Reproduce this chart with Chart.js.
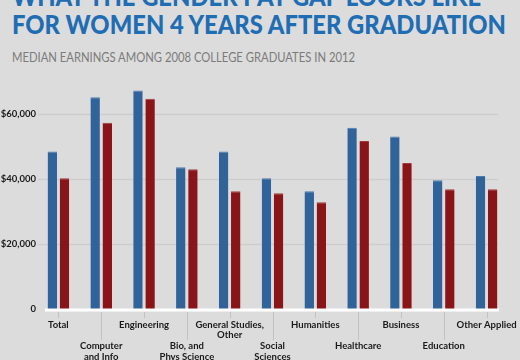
<!DOCTYPE html>
<html>
<head>
<meta charset="utf-8">
<script src="https://cdn.jsdelivr.net/npm/chart.js@4"></script>
<style>
  html, body { margin: 0; padding: 0; background: #dcdcdc; }
  #wrap { position: relative; width: 520px; height: 360px; overflow: hidden; background: #dcdcdc; }
  .title {
    position: absolute; left: 12px; margin: 0; white-space: nowrap;
    font-family: Lato, sans-serif; font-weight: 900; font-size: 26px;
    color: #1f6db3; line-height: 28px; transform-origin: 0 0;
  }
  #t1 { top: -18px; }
  #t2 { top: 10px; }
  #sub {
    position: absolute; left: 12px; top: 49px; margin: 0; white-space: nowrap;
    font-family: Lato, sans-serif; font-size: 13.5px; color: #7b7b7b; transform-origin: 0 0;
  }
  #chart-box { position: absolute; left: 0; top: 0; width: 520px; height: 360px; }
</style>
</head>
<body>
<div id="wrap">
  <div class="title" id="t1">WHAT THE GENDER PAY GAP LOOKS LIKE</div>
  <div class="title" id="t2">FOR WOMEN 4 YEARS AFTER GRADUATION</div>
  <div id="sub">MEDIAN EARNINGS AMONG 2008 COLLEGE GRADUATES IN 2012</div>
  <div id="chart-box"><canvas id="gap"></canvas></div>
</div>
<script>
const categories = [
  ["Total"],
  ["Computer", "and Info"],
  ["Engineering"],
  ["Bio, and", "Phys Science"],
  ["General Studies,", "Other"],
  ["Social", "Sciences"],
  ["Humanities"],
  ["Healthcare"],
  ["Business"],
  ["Education"],
  ["Other Applied"],
];
const men = [48600, 65300, 67400, 43700, 48600, 40300, 36300, 55900, 53200, 39700, 41000];
const women = [40300, 57400, 64800, 43100, 36300, 35700, 32900, 51800, 45000, 36900, 36900];
const yTicks = [0, 20000, 40000, 60000];

// squeeze the heading lines to the widths of the original
function fitWidth(el, w) {
  const k = w / el.getBoundingClientRect().width;
  el.style.transform = "scaleX(" + k + ")";
  return k;
}
const k = fitWidth(document.getElementById("t2"), 494);
document.getElementById("t1").style.transform = "scaleX(" + k + ")";
fitWidth(document.getElementById("sub"), 343);

// gridlines, white baseline and staggered tick marks
const decor = {
  id: "decor",
  beforeDatasetsDraw(chart) {
    const { ctx, chartArea, scales } = chart;
    ctx.save();
    ctx.strokeStyle = "#cdcdcd";
    ctx.lineWidth = 1.5;
    yTicks.forEach((v) => {
      if (v === 0) return;
      const y = Math.round(scales.y.getPixelForValue(v)) + 0.5;
      ctx.beginPath();
      ctx.moveTo(chartArea.left + 1, y);
      ctx.lineTo(chartArea.right - 10, y);
      ctx.stroke();
    });
    ctx.restore();
  },
  afterDatasetsDraw(chart) {
    const { ctx, chartArea, scales } = chart;
    const y0 = scales.y.getPixelForValue(0);
    ctx.save();
    ctx.strokeStyle = "#ffffff";
    ctx.lineWidth = 3;
    ctx.beginPath();
    ctx.moveTo(chartArea.left + 8, y0 + 1);
    ctx.lineTo(chartArea.right - 9, y0 + 1);
    ctx.stroke();
    ctx.strokeStyle = "#c2c2c2";
    ctx.lineWidth = 1;
    categories.forEach((c, i) => {
      const x = Math.round(scales.x.getPixelForTick(i)) + 0.5;
      ctx.beginPath();
      ctx.moveTo(x, y0 + 3);
      ctx.lineTo(x, i % 2 ? y0 + 31 : y0 + 9);
      ctx.stroke();
    });
    ctx.restore();
  },
};

new Chart(document.getElementById("gap"), {
  type: "bar",
  data: {
    labels: categories,
    datasets: [
      {
        label: "Men",
        data: men,
        backgroundColor: "#30639a",
        borderColor: "#4a7bb0",
        borderWidth: { top: 1, left: 0, right: 0, bottom: 0 },
        categoryPercentage: 0.567,
        barPercentage: 0.78,
      },
      {
        label: "Women",
        data: women,
        backgroundColor: "#8a1519",
        borderColor: "#a33a3a",
        borderWidth: { top: 1, left: 0, right: 0, bottom: 0 },
        categoryPercentage: 0.567,
        barPercentage: 0.78,
      },
    ],
  },
  options: {
    responsive: true,
    maintainAspectRatio: false,
    animation: false,
    layout: { padding: { top: 82, right: 12, left: 0, bottom: 0 } },
    plugins: { legend: { display: false }, tooltip: { enabled: false }, title: { display: false } },
    scales: {
      x: {
        grid: { display: false, drawTicks: false },
        border: { display: false },
        afterFit: (scale) => {
          scale.height = 51;
          // labels may hang past the plot edges, as in the original
          scale.paddingLeft = 0;
          scale.paddingRight = 0;
        },
        ticks: {
          autoSkip: false,
          maxRotation: 0,
          padding: 10,
          color: "#1a1a1a",
          font: { family: "Lato", size: 9.5, weight: "bold", lineHeight: 1.15 },
          callback: (v, i) => (i % 2 ? ["", ""].concat(categories[i]) : categories[i]),
        },
      },
      y: {
        min: 0,
        max: 70000,
        grid: { display: false, drawTicks: false },
        border: { display: false },
        afterFit: (scale) => { scale.width = 37; },
        afterBuildTicks: (scale) => { scale.ticks = yTicks.map((v) => ({ value: v })); },
        ticks: {
          padding: 1,
          color: "#1a1a1a",
          font: { family: "Lato", size: 9.5, weight: "bold" },
          callback: (v) => (v === 0 ? "0" : "$" + v.toLocaleString("en-US")),
        },
      },
    },
  },
  plugins: [decor],
});
</script>
</body>
</html>
